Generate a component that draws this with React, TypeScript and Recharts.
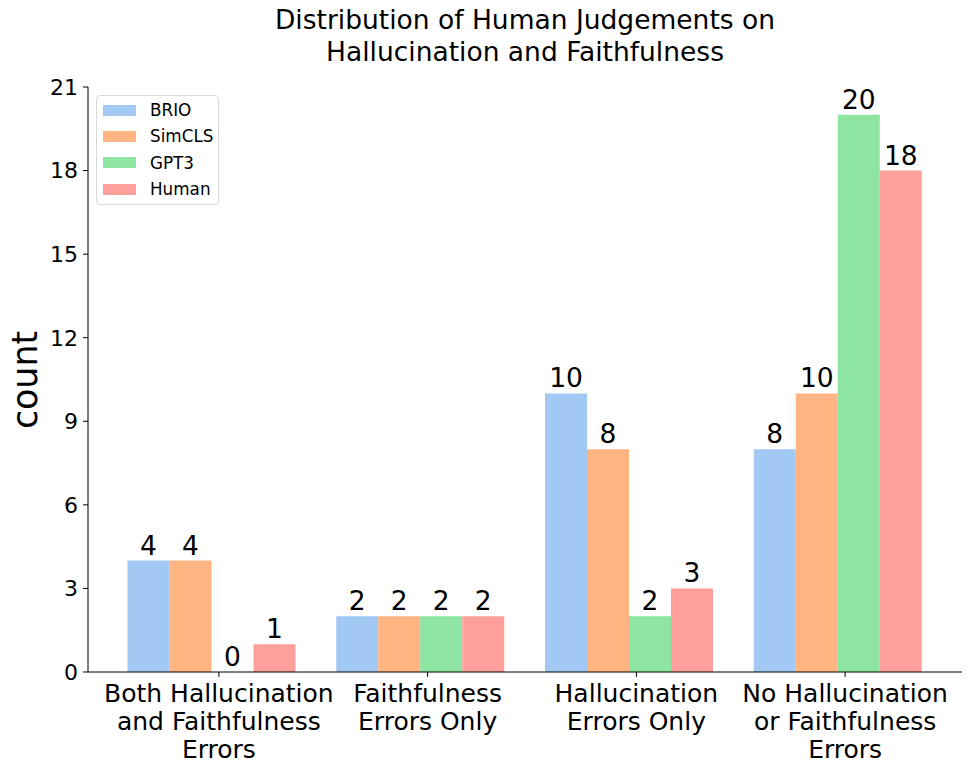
import React from 'react';
import { BarChart, Bar, XAxis, YAxis, Legend, LabelList } from 'recharts';

const categories = ['Both Hallucination\nand Faithfulness\nErrors', 'Faithfulness\nErrors Only', 'Hallucination\nErrors Only', 'No Hallucination\nor Faithfulness\nErrors'];
const brio = [4, 2, 10, 8];
const simcls = [4, 2, 8, 10];
const gpt3 = [0, 2, 2, 20];
const human = [1, 2, 3, 18];
const yTicks = [0, 3, 6, 9, 12, 15, 18, 21];

const seriesNames = ['BRIO', 'SimCLS', 'GPT3', 'Human'];
const seriesKeys = ['brio', 'simcls', 'gpt3', 'human'];
const colors = ['#a1c9f4', '#ffb482', '#8de5a1', '#ff9f9b'];

const data = categories.map((c, i) => ({
  category: c,
  brio: brio[i],
  simcls: simcls[i],
  gpt3: gpt3[i],
  human: human[i],
}));

const FONT = '"DejaVu Sans", sans-serif';

const XTick = (props: any) => {
  const { x, y, payload } = props;
  const lines: string[] = String(payload.value).split('\n');
  const cx = x + 7;
  return (
    <g>
      <line x1={cx} x2={cx} y1={y} y2={y + 5} stroke="#000" strokeWidth={1} />
      <text x={cx} y={y} textAnchor="middle" fontSize={25} fontFamily={FONT} fill="#000">
        {lines.map((l, i) => (
          <tspan key={i} x={cx} y={y + 29.5 + i * 28}>{l}</tspan>
        ))}
      </text>
    </g>
  );
};

const ValueLabel = (props: any) => {
  const { x, y, width, value } = props;
  if (x == null || y == null) return null;
  return (
    <text x={Number(x) + Number(width) / 2} y={Number(y) - 6} textAnchor="middle" fontSize={26.5} fontFamily={FONT} fill="#000">
      {String(value)}
    </text>
  );
};

const renderLegend = () => (
  <div
    style={{
      border: '1px solid #d9d9d9',
      borderRadius: 4,
      background: 'rgba(255,255,255,0.8)',
      padding: '1px 6px 3px 6px',
      fontFamily: FONT,
      fontSize: 16.8,
      color: '#000',
      boxSizing: 'border-box',
      width: 123,
      height: 110,
    }}
  >
    {seriesNames.map((n, i) => (
      <div key={n} style={{ display: 'flex', alignItems: 'center', height: 26.3, whiteSpace: 'nowrap' }}>
        <div style={{ width: 33, height: 11, background: colors[i], marginRight: 14, flexShrink: 0 }} />
        <span>{n}</span>
      </div>
    ))}
  </div>
);

export default function App() {
  return (
    <div style={{ position: 'absolute', left: 0, top: 0, width: 971, height: 771, background: '#fff', fontFamily: FONT }}>
      <div
        style={{
          position: 'absolute',
          left: 0,
          width: 1050,
          top: 3.5,
          textAlign: 'center',
          fontSize: 26.5,
          lineHeight: '32px',
          color: '#000',
        }}
      >
        Distribution of Human Judgements on
        <br />
        Hallucination and Faithfulness
      </div>
      <BarChart
        width={971}
        height={771}
        data={data}
        margin={{ top: 87, right: 9, bottom: 0, left: 8 }}
        barGap={0}
        style={{ position: 'absolute', left: 0, top: 0 }}
      >
        <XAxis
          dataKey="category"
          type="category"
          height={99}
          padding={{ left: 19.5, right: 19.5 }}
          tickLine={false}
          tickSize={0}
          tickMargin={0}
          axisLine={{ stroke: '#000', strokeWidth: 1 }}
          tick={<XTick />}
          interval={0}
        />
        <XAxis xAxisId="top" orientation="top" dataKey="category" height={0} tick={false} tickLine={false} axisLine={{ stroke: '#000', strokeWidth: 1 }} />
        <YAxis
          width={80}
          domain={[0, 21]}
          ticks={yTicks}
          interval={0}
          tickSize={5}
          tickMargin={5}
          tickLine={{ stroke: '#000', strokeWidth: 1 }}
          axisLine={{ stroke: '#000', strokeWidth: 1 }}
          tick={{ fontSize: 22, fill: '#000', fontFamily: FONT }}
          label={{
            content: () => (
              <text x={37} y={380} transform="rotate(-90, 37, 380)" textAnchor="middle" fontSize={34.8} fontFamily={FONT} fill="#000">
                count
              </text>
            ),
          }}
        />
        <YAxis yAxisId="right" orientation="right" width={0} domain={[0, 21]} tick={false} tickLine={false} axisLine={{ stroke: '#000', strokeWidth: 1 }} />
        <Legend
          layout="vertical"
          align="center"
          verticalAlign="middle"
          content={renderLegend}
          wrapperStyle={{ position: 'absolute', left: 96, top: 95, width: 123, height: 110 }}
        />
        {seriesKeys.map((k, i) => (
          <Bar
            key={k}
            dataKey={k}
            name={seriesNames[i]}
            fill={colors[i]}
            barSize={42}
            minPointSize={(v: any) => (v === 0 ? 0.01 : 0)}
            isAnimationActive={false}
          >
            <LabelList dataKey={k} content={<ValueLabel />} />
          </Bar>
        ))}
      </BarChart>
    </div>
  );
}
